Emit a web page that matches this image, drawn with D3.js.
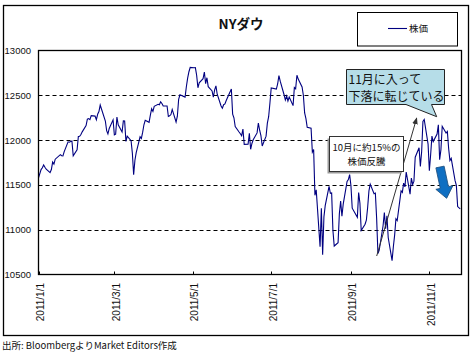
<!DOCTYPE html>
<html>
<head>
<meta charset="utf-8">
<script src="https://cdn.jsdelivr.net/npm/d3@7"></script>
<style>
	body { margin: 0; background: #fff; }
	svg { display: block; }
	text { font-family: "Noto Sans CJK JP", "Liberation Sans", sans-serif; fill: #111; }
</style>
</head>
<body>
<svg width="471" height="359"></svg>
<script>
// Trading days, one line per month ("year-month: days")
const tradeDays = [
	"2010-12: 31",
	"2011-01: 3 4 5 6 7 10 11 12 13 14 18 19 20 21 24 25 26 27 28 31",
	"2011-02: 1 2 3 4 7 8 9 10 11 14 15 16 17 18 22 23 24 25 28",
	"2011-03: 1 2 3 4 7 8 9 10 11 14 15 16 17 18 21 22 23 24 25 28 29 30 31",
	"2011-04: 1 4 5 6 7 8 11 12 13 14 15 18 19 20 21 25 26 27 28 29",
	"2011-05: 2 3 4 5 6 9 10 11 12 13 16 17 18 19 20 23 24 25 26 27 31",
	"2011-06: 1 2 3 6 7 8 9 10 13 14 15 16 17 20 21 22 23 24 27 28 29 30",
	"2011-07: 1 5 6 7 8 11 12 13 14 15 18 19 20 21 22 25 26 27 28 29",
	"2011-08: 1 2 3 4 5 8 9 10 11 12 15 16 17 18 19 22 23 24 25 26 29 30 31",
	"2011-09: 1 2 6 7 8 9 12 13 14 15 16 19 20 21 22 23 26 27 28 29 30",
	"2011-10: 3 4 5 6 7 10 11 12 13 14 17 18 19 20 21 24 25 26 27 28 31",
	"2011-11: 1 2 3 4 7 8 9 10 11 14 15 16 17 18 21 22 23 25",
];

// NY Dow closes, same order as tradeDays
const closes = [
	11578,
	11671, 11691, 11723, 11697, 11675, 11637, 11672, 11755, 11732, 11787, 11838, 11825, 11823, 11872, 11981, 11977, 11985, 11990, 11824, 11892,
	12040, 12042, 12062, 12092, 12162, 12233, 12240, 12229, 12273, 12268, 12227, 12288, 12318, 12391, 12213, 12106, 12069, 12130, 12226,
	12058, 12067, 12258, 12170, 12090, 12214, 12213, 11985, 12044, 11993, 11855, 11613, 11775, 11859, 12037, 12019, 12086, 12171, 12221, 12198, 12279, 12351, 12320,
	12377, 12400, 12394, 12427, 12409, 12380, 12381, 12264, 12271, 12285, 12342, 12202, 12267, 12454, 12506, 12480, 12595, 12691, 12763, 12811,
	12807, 12808, 12724, 12584, 12639, 12685, 12760, 12630, 12696, 12596, 12548, 12480, 12560, 12605, 12512, 12381, 12356, 12395, 12403, 12442, 12570,
	12290, 12249, 12151, 12090, 12071, 12049, 12124, 11952, 11953, 12076, 11897, 11962, 12004, 12080, 12190, 12110, 12050, 11935, 12044, 12189, 12261, 12414,
	12583, 12570, 12626, 12719, 12657, 12506, 12447, 12492, 12437, 12480, 12385, 12587, 12572, 12724, 12681, 12593, 12501, 12303, 12240, 12143,
	12132, 11867, 11896, 11384, 11445, 10810, 11240, 10720, 11143, 11269, 11483, 11406, 11410, 10991, 10818, 10855, 11177, 11321, 11150, 11285, 11539, 11560, 11614,
	11494, 11240, 11139, 11415, 11296, 10992, 11061, 11106, 11247, 11433, 11509, 11401, 11409, 11125, 10734, 10771, 11044, 11191, 11011, 11154, 10913,
	10655, 10809, 10940, 11123, 11103, 11433, 11416, 11519, 11478, 11644, 11397, 11577, 11505, 11542, 11809, 11914, 11707, 11869, 12209, 12231, 11955,
	11658, 11836, 12044, 11983, 12068, 12170, 11781, 11894, 12154, 12079, 12096, 11906, 11771, 11796, 11547, 11494, 11258, 11232,
];

const yTicks = [10500, 11000, 11500, 12000, 12500, 13000];
const xTickDates = ["2011-01-01", "2011-03-01", "2011-05-01", "2011-07-01", "2011-09-01", "2011-11-01"];
const xDomain = ["2011-01-01", "2011-11-26"];

const title = "NYダウ";
const legendLabel = "株価";
const source = "出所: BloombergよりMarket Editors作成";
const noteNov = ["11月に入って", "下落に転じている"];
const noteOct = ["10月に約15%の", "株価反騰"];

// Build data
const parseDay = d3.timeParse("%Y-%m-%d");
const dates = tradeDays.flatMap((row) => {
	const [ym, days] = row.split(": ");
	return days.split(" ").map((d) => parseDay(`${ym}-${d.padStart(2, "0")}`));
});
const data = dates.map((d, i) => ({ date: d, value: closes[i] }));

const svg = d3.select("svg");

// Outer frame
svg.append("rect")
	.attr("x", 3.5).attr("y", 5.5).attr("width", 465).attr("height", 330)
	.attr("fill", "#fff").attr("stroke", "#000").attr("stroke-width", 1.3);

const plot = { left: 38.5, top: 50.5, right: 461.5, bottom: 274.5 };

const x = d3.scaleTime()
	.domain(xDomain.map(parseDay))
	.range([plot.left, plot.right])
	.clamp(true);

const y = d3.scaleLinear()
	.domain([10500, 13000])
	.range([plot.bottom, plot.top]);

// Gridlines
svg.append("g")
	.selectAll("line")
	.data(yTicks.slice(1, -1))
	.join("line")
	.attr("x1", plot.left).attr("x2", plot.right)
	.attr("y1", (d) => Math.round(y(d)) + 0.5).attr("y2", (d) => Math.round(y(d)) + 0.5)
	.attr("stroke", "#000").attr("stroke-dasharray", "4,3");

// Y labels
svg.append("g")
	.selectAll("text")
	.data(yTicks)
	.join("text")
	.attr("x", 31).attr("y", (d) => y(d) + 3.5)
	.attr("text-anchor", "end")
	.style("font-family", "'Liberation Sans', sans-serif")
	.style("font-size", "9.5px")
	.text((d) => d);

// X ticks and labels
const xt = svg.append("g").selectAll("g")
	.data(xTickDates.map(parseDay))
	.join("g");
xt.append("line")
	.attr("x1", (d) => Math.round(x(d)) + 0.5).attr("x2", (d) => Math.round(x(d)) + 0.5)
	.attr("y1", plot.bottom).attr("y2", plot.bottom - 3)
	.attr("stroke", "#000");
xt.append("text")
	.attr("transform", (d) => `translate(${x(d) + 5.5},283) rotate(-90)`)
	.attr("text-anchor", "end")
	.style("font-family", "'Liberation Sans', sans-serif")
	.style("font-size", "10px")
	.text(d3.timeFormat("%Y/%-m/%-d"));

// Series
const line = d3.line()
	.x((d) => x(d.date))
	.y((d) => y(d.value));

svg.append("path")
	.datum(data)
	.attr("d", line)
	.attr("fill", "none")
	.attr("stroke", "#000080")
	.attr("stroke-width", 1.1);

// Plot frame
svg.append("rect")
	.attr("x", plot.left).attr("y", plot.top)
	.attr("width", plot.right - plot.left).attr("height", plot.bottom - plot.top)
	.attr("fill", "none").attr("stroke", "#000").attr("stroke-width", 1.3);

// Title
svg.append("text")
	.attr("x", 241).attr("y", 29)
	.attr("text-anchor", "middle")
	.style("font-size", "13.5px").style("font-weight", "bold")
	.text(title);

// Legend
svg.append("rect")
	.attr("x", 357.5).attr("y", 12.5).attr("width", 100).attr("height", 33.5)
	.attr("fill", "#fff").attr("stroke", "#000");
svg.append("line")
	.attr("x1", 388).attr("x2", 407).attr("y1", 28.5).attr("y2", 28.5)
	.attr("stroke", "#000080").attr("stroke-width", 1.1);
svg.append("text")
	.attr("x", 409).attr("y", 32)
	.style("font-size", "9.5px")
	.text(legendLabel);

// Arrow marker for the note line
svg.append("defs").append("marker")
	.attr("id", "tip")
	.attr("viewBox", "0 0 10 10")
	.attr("refX", 9).attr("refY", 5)
	.attr("markerWidth", 7).attr("markerHeight", 7)
	.attr("orient", "auto")
	.append("path")
	.attr("d", "M0,1 L10,5 L0,9 Z")
	.attr("fill", "#333");

svg.append("line")
	.attr("x1", 376.7).attr("y1", 256)
	.attr("x2", 416.7).attr("y2", 118)
	.attr("stroke", "#333").attr("stroke-width", 1)
	.attr("marker-end", "url(#tip)");

// October note box (with shadow)
svg.append("rect")
	.attr("x", 327.5).attr("y", 138.5).attr("width", 74).attr("height", 35)
	.attr("fill", "#9a9a9a");
svg.append("rect")
	.attr("x", 329.5).attr("y", 136.5).attr("width", 74).attr("height", 35)
	.attr("fill", "#fff").attr("stroke", "#333");
svg.append("g")
	.selectAll("text")
	.data(noteOct)
	.join("text")
	.attr("x", 366.5).attr("y", (d, i) => 151 + i * 14)
	.attr("text-anchor", "middle")
	.style("font-size", "9.5px")
	.text((d) => d);

// November callout
svg.append("path")
	.attr("d", "M346.5,69.5 H444.5 V104.5 H431.5 L436.7,116.7 L406,104.5 H346.5 Z")
	.attr("fill", "#b6dde8").attr("stroke", "#222");
svg.append("g")
	.selectAll("text")
	.data(noteNov)
	.join("text")
	.attr("x", 348.5).attr("y", (d, i) => 83.5 + i * 17.5)
	.style("font-size", "12px")
	.text((d) => d);

// Blue block arrow pointing down
svg.append("path")
	.attr("d", "M-4.2,0 L4.2,0 L4.2,21 L8.7,21 L0,32 L-8.7,21 L-4.2,21 Z")
	.attr("transform", "translate(440,167) rotate(-12)")
	.attr("fill", "#0f6fc2").attr("stroke", "#1d4f80").attr("stroke-width", 0.8);

// Source
svg.append("text")
	.attr("x", 2).attr("y", 349)
	.style("font-size", "9.5px")
	.text(source);
</script>
</body>
</html>
